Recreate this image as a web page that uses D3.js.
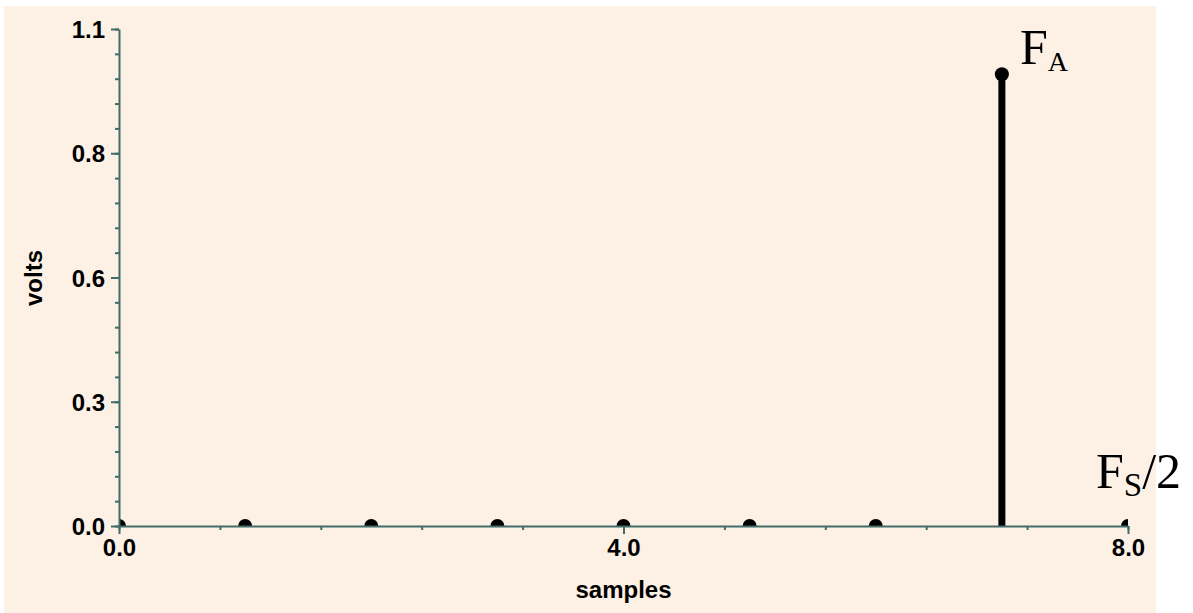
<!DOCTYPE html>
<html>
<head>
<meta charset="utf-8">
<script src="https://cdn.jsdelivr.net/npm/d3@7"></script>
<style>
  html, body { margin: 0; padding: 0; background: #ffffff; }
  svg { display: block; }
</style>
</head>
<body>
<svg id="chart" width="1193" height="613"></svg>
<script>
// ---- data ----
const samples = [0, 1, 2, 3, 4, 5, 6, 7, 8];
const volts   = [0, 0, 0, 0, 0, 0, 0, 1.0, 0];
const xMajorTicks = [0, 4, 8];
const xTickLabels = ["0.0", "4.0", "8.0"];
const yMajorTicks = [0, 0.275, 0.55, 0.825, 1.1];
const yTickLabels = ["0.0", "0.3", "0.6", "0.8", "1.1"];
const xMinorStep = 0.8;
const yMinorStep = 0.055;
const xTitle = "samples";
const yTitle = "volts";

// ---- layout ----
const svg = d3.select("#chart");
const plotL = 119, plotR = 1128, plotT = 29, plotB = 526;
const axisColor = "#406d69";

svg.append("rect").attr("x", 4).attr("y", 6).attr("width", 1152).attr("height", 607)
  .attr("fill", "#fdf0e5");

const x = d3.scaleLinear().domain([0, 8]).range([plotL, plotR]);
const y = d3.scaleLinear().domain([0, 1.1]).range([plotB, plotT]);

svg.append("defs").append("clipPath").attr("id", "plotclip")
  .append("rect").attr("x", plotL).attr("y", 0).attr("width", plotR - plotL).attr("height", plotB);

const data = samples.map((s, i) => ({s, v: volts[i]}));
const marks = svg.append("g").attr("clip-path", "url(#plotclip)");

marks.selectAll("line.stem").data(data.filter(d => d.v !== 0)).join("line")
  .attr("class", "stem")
  .attr("x1", d => x(d.s)).attr("x2", d => x(d.s))
  .attr("y1", y(0)).attr("y2", d => y(d.v))
  .attr("stroke", "#000").attr("stroke-width", 7);

marks.selectAll("circle").data(data).join("circle")
  .attr("cx", d => x(d.s)).attr("cy", d => y(d.v)).attr("r", 7)
  .attr("fill", "#000");

// minor ticks
const xMinor = d3.range(0, 8 + 1e-9, xMinorStep);
const yMinor = d3.range(0, 1.1 + 1e-9, yMinorStep);

function styleAxis(g) {
  g.selectAll("path.domain").attr("stroke", axisColor).attr("stroke-width", 2);
  g.selectAll(".tick line").attr("stroke", axisColor).attr("stroke-width", 2);
}

svg.append("g").attr("transform", `translate(0,${plotB})`)
  .call(d3.axisBottom(x).tickValues(xMinor).tickSize(4).tickSizeOuter(0).tickFormat(""))
  .call(styleAxis);
svg.append("g").attr("transform", `translate(${plotL},0)`)
  .call(d3.axisLeft(y).tickValues(yMinor).tickSize(4).tickSizeOuter(0).tickFormat(""))
  .call(styleAxis);

const labelFont = "'Liberation Sans', Arial, sans-serif";

const gx = svg.append("g").attr("transform", `translate(0,${plotB})`)
  .call(d3.axisBottom(x).tickValues(xMajorTicks).tickSize(8).tickSizeOuter(0)
    .tickFormat((d, i) => xTickLabels[i]))
  .call(styleAxis);
gx.select("path.domain").remove();
gx.selectAll(".tick text").attr("fill", "#000").attr("font-family", labelFont)
  .attr("font-weight", "bold").attr("font-size", 24).attr("y", 30).attr("dy", 0);

const gy = svg.append("g").attr("transform", `translate(${plotL},0)`)
  .call(d3.axisLeft(y).tickValues(yMajorTicks).tickSize(8).tickSizeOuter(0)
    .tickFormat((d, i) => yTickLabels[i]))
  .call(styleAxis);
gy.select("path.domain").remove();
gy.selectAll(".tick text").attr("fill", "#000").attr("font-family", labelFont)
  .attr("font-weight", "bold").attr("font-size", 24).attr("x", -14).attr("dy", "0.36em");

// axis titles
svg.append("text").attr("x", (plotL + plotR) / 2).attr("y", 598)
  .attr("text-anchor", "middle").attr("font-family", labelFont)
  .attr("font-weight", "bold").attr("font-size", 24).attr("fill", "#000").text(xTitle);
svg.append("text").attr("transform", `translate(42,278) rotate(-90)`)
  .attr("text-anchor", "middle").attr("font-family", labelFont)
  .attr("font-weight", "bold").attr("font-size", 24).attr("fill", "#000").text(yTitle);

// annotations
const serif = "'Liberation Serif', 'Times New Roman', serif";
const fa = svg.append("text").attr("x", 1020).attr("y", 64)
  .attr("font-family", serif).attr("font-size", 50).attr("fill", "#000");
fa.append("tspan").text("F");
fa.append("tspan").attr("font-size", 28).attr("dy", 7).text("A");

const fs = svg.append("text").attr("x", 1096).attr("y", 488)
  .attr("font-family", serif).attr("font-size", 50).attr("fill", "#000");
fs.append("tspan").text("F");
fs.append("tspan").attr("font-size", 33).attr("dy", 8).text("S");
fs.append("tspan").attr("dy", -8).text("/2");
</script>
</body>
</html>
